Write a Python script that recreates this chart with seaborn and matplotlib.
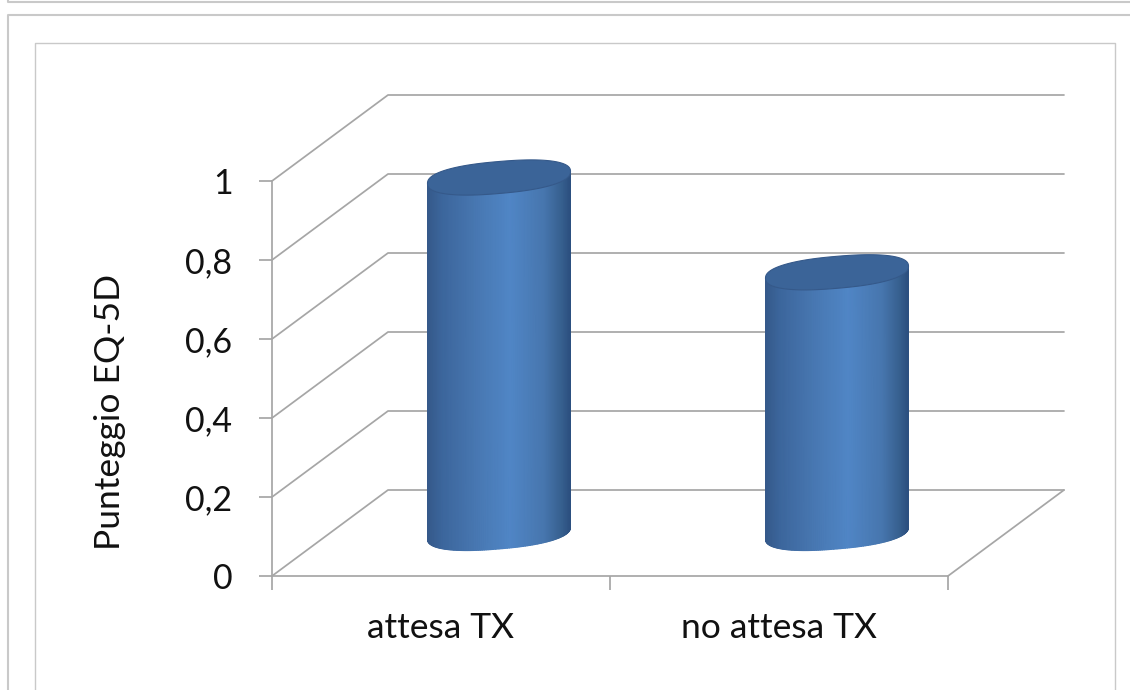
import numpy as np
import matplotlib
matplotlib.use("Agg")
import matplotlib.pyplot as plt
import seaborn as sns
from matplotlib.colors import LinearSegmentedColormap
from matplotlib.lines import Line2D
from matplotlib.path import Path
from matplotlib.patches import Polygon
from matplotlib.transforms import Affine2D

categories = ["attesa TX", "no attesa TX"]
positions = [0, 1]
scores = [0.90, 0.66]
score_ticks = [0, 0.2, 0.4, 0.6, 0.8, 1]
score_labels = ["0", "0,2", "0,4", "0,6", "0,8", "1"]
axis_title = "Punteggio EQ-5D"

W, H, DPI = 1130, 690, 100
GRID = "#a6a6a6"
FRAME = "#c9c9c9"
INK = "#111111"

sns.set_theme(style="white")
plt.rcParams["font.family"] = ["Lato", "DejaVu Sans"]

fig = plt.figure(figsize=(W / DPI, H / DPI), dpi=DPI, facecolor="white")
ax = fig.add_axes([272 / W, 1 - 576 / H, 676 / W, 395 / H])
ax.patch.set_alpha(0)

data = {"gruppo": positions, "punteggio": scores}
sns.barplot(data=data, x="gruppo", y="punteggio", width=143 / 338, native_scale=True,
            color="#4677b3", errorbar=None, ax=ax, zorder=3)
ax.set_xlim(-0.5, 1.5)
ax.set_ylim(0, 1)

# Axis-unit sizes of one pixel, and the depth of the pseudo-3D box
px_x = 2 / 676
px_y = 1 / 395
depth_x, depth_y = 116 * px_x, 86 * px_y

# Receding walls and floor of the chart box
x0, x1 = ax.get_xlim()
for v in score_ticks:
    ax.plot([x0, x0 + depth_x, x1 + depth_x], [v, v + depth_y, v + depth_y],
            color=GRID, lw=1.25, clip_on=False, zorder=1)
ax.plot([x1, x1 + depth_x], [0, depth_y], color=GRID, lw=1.25, clip_on=False, zorder=1)

# Cylinders stand halfway back on the floor
shift = ax.transData + Affine2D().translate(58, 43)
shade = LinearSegmentedColormap.from_list(
    "cyl",
    [(0.0, "#35598a"), (0.1, "#3c669c"), (0.32, "#4776b0"), (0.58, "#5086c6"),
     (0.82, "#4776ae"), (0.94, "#37608f"), (1.0, "#2c5080")],
)
minor_b = 16 * px_y
lean = 6 * px_y


def rim_curve(t, half):
    # Slightly squared ellipse, tilted upward to the right
    c, s = np.cos(t), np.sin(t)
    u = np.sign(c) * np.abs(c) ** 0.85
    v = np.sign(s) * np.abs(s) ** 0.85
    return half * u, minor_b * v + lean * u


t_low = np.linspace(np.pi, 2 * np.pi, 121)
t_all = np.linspace(0, 2 * np.pi, 241)

for bar in list(ax.patches):
    half = bar.get_width() / 2
    cx = bar.get_x() + half
    top = bar.get_height()

    dx, rim = rim_curve(t_low, half)
    xs = cx + dx
    X = np.vstack([xs, xs])
    Y = np.vstack([rim, top + rim])
    C = (xs - xs.min()) / (xs.max() - xs.min())
    C = np.vstack([C, C])
    ax.pcolormesh(X, Y, C, cmap=shade, shading="gouraud", vmin=0, vmax=1,
                  transform=shift, clip_on=False, zorder=4)

    lid_dx, lid_dy = rim_curve(t_all, half)
    ax.add_patch(Polygon(np.column_stack([cx + lid_dx, top + lid_dy]), closed=True,
                         facecolor="#3b6498", edgecolor="#35598a", lw=0.8,
                         transform=shift, clip_on=False, zorder=5))

    # Keep the flat bar hidden inside the cylinder outline
    outline = np.column_stack([
        np.r_[xs, xs[::-1]],
        np.r_[rim, top + rim[::-1]],
    ])
    bar.set_transform(shift)
    bar.set_clip_box(None)
    bar.set_clip_path(Path(outline, closed=False), shift)

ax.set_xlim(-0.5, 1.5)
ax.set_ylim(0, 1)

# Axes
sns.despine(ax=ax, top=True, right=True)
for side in ("left", "bottom"):
    ax.spines[side].set_color(GRID)
    ax.spines[side].set_linewidth(1.25)
ax.set_yticks(score_ticks)
ax.set_yticklabels(score_labels, fontsize=24.5, color=INK)
ax.tick_params(axis="y", length=9.5, width=1.25, color=GRID, pad=19, left=True)
ax.set_xticks(positions)
ax.set_xticklabels(categories, fontsize=25.5, color=INK)
ax.set_xticks([-0.5, 0.5, 1.5], minor=True)
ax.tick_params(axis="x", which="major", length=0, pad=26, bottom=False)
ax.tick_params(axis="x", which="minor", length=10, width=1.25, color=GRID, bottom=True)
ax.set_xlabel("")
ax.set_ylabel("")
fig.text(110 / W, 1 - 412 / H, axis_title, rotation=90, fontsize=25.5,
         color=INK, ha="center", va="center")

# Window frames around the chart
def frame_line(xs, ys, lw):
    fig.add_artist(Line2D(np.array(xs) / W, 1 - np.array(ys) / H, color=FRAME, lw=lw,
                          transform=fig.transFigure))

frame_line([8, 8, W], [0, 2, 2], 1.5)
frame_line([8, 8, W], [H, 15, 15], 1.5)
frame_line([35, 35, 1115, 1115], [H, 43, 43, H], 1.0)

fig.savefig("out.png", dpi=DPI, facecolor="white")
